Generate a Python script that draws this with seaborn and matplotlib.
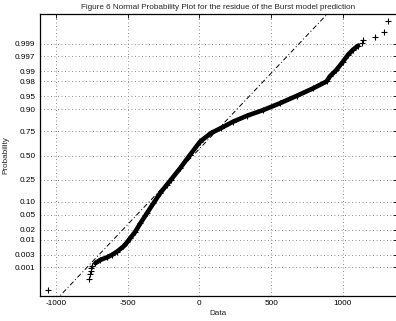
import matplotlib
matplotlib.use("Agg")
import matplotlib.pyplot as plt
import numpy as np
import pandas as pd
import seaborn as sns
from statistics import NormalDist

# Sorted residuals of the Burst model prediction and their plotting probabilities
residual = [-1055, -767, -765, -758, -755, -748, -725, -690, -644, -609, -574,
            -529, -501, -482, -447, -412, -366, -320, -273, -227, -200, -134,
            -65, 5, 80, 150, 236, 330, 445, 561, 677, 793, 886, 909, 955, 1001,
            1036, 1071, 1106, 1134, 1140, 1222, 1287, 1318]
cum_prob = [0.0001, 0.0003, 0.0005, 0.0007, 0.0009, 0.0011, 0.00144, 0.00193,
            0.0024, 0.00298, 0.0039, 0.0059, 0.0084, 0.011, 0.0174, 0.030,
            0.0548, 0.0934, 0.149, 0.209, 0.248, 0.363, 0.508, 0.650, 0.732,
            0.776, 0.826, 0.864, 0.896, 0.926, 0.9505, 0.9686, 0.9798, 0.9857,
            0.9911, 0.99534, 0.99736, 0.99831, 0.99882, 0.9991, 0.9993, 0.9995,
            0.9997, 0.9999]

# Lower and upper quartiles of the residuals (reference line passes through them)
quartiles = [-205, 117]

prob_ticks = [0.001, 0.003, 0.01, 0.02, 0.05, 0.10, 0.25, 0.50, 0.75, 0.90,
              0.95, 0.98, 0.99, 0.997, 0.999]
prob_labels = ["0.001", "0.003", "0.01", "0.02", "0.05", "0.10", "0.25", "0.50",
               "0.75", "0.90", "0.95", "0.98", "0.99", "0.997", "0.999"]
x_ticks = [-1000, -500, 0, 500, 1000]
x_labels = ["-1000", "-500", "0", "500", "1000"]

nd = NormalDist()
df = pd.DataFrame({"residual": residual, "prob": cum_prob})
df["z"] = [nd.inv_cdf(p) for p in df["prob"]]

sns.set_style("white")
plt.rcParams["font.family"] = ["Liberation Sans", "DejaVu Sans"]
plt.rcParams["axes.unicode_minus"] = False

W, H = 396, 321
fig = plt.figure(figsize=(W / 100, H / 100), dpi=100)
ax = fig.add_axes([39.5 / W, 1 - 296 / H, (397 - 39.5) / W, (296 - 14.3) / H])

# dense central part of the sample drawn as a thick band
body = df[(df["prob"] > 0.0012) & (df["prob"] < 0.999)]
sns.lineplot(data=body, x="residual", y="z", sort=False, estimator=None,
             color="black", linewidth=3.3, ax=ax)
# every sample point as a '+' marker
sns.scatterplot(data=df, x="residual", y="z", marker="+", s=18, color="black",
                linewidth=0.8, ax=ax, zorder=3)

# reference line through the quartiles, over the data range
zq = nd.inv_cdf(0.75)
slope = 2 * zq / (quartiles[1] - quartiles[0])
mid = (quartiles[0] + quartiles[1]) / 2
xmin, xmax = min(residual), max(residual)
sns.lineplot(x=[xmin, xmax], y=[(xmin - mid) * slope, (xmax - mid) * slope],
             color="black", linewidth=0.7, linestyle=(0, (5, 2.5, 1, 2.5)), ax=ax)

rng = xmax - xmin
ax.set_xlim(xmin - 0.025 * rng, xmax + 0.025 * rng)
ax.set_ylim(-3.89, 3.91)

ax.set_xticks(x_ticks)
ax.set_xticklabels(x_labels)
ax.set_yticks([nd.inv_cdf(p) for p in prob_ticks])
ax.set_yticklabels(prob_labels)

ax.grid(True, color="0.5", linewidth=0.6, linestyle=(0, (1.2, 3)))
ax.tick_params(direction="in", top=True, right=True, length=3, width=0.6,
               labelsize=5.9, colors="black", pad=3)
for s in ax.spines.values():
    s.set_color("black")
    s.set_linewidth(0.9)

ax.set_xlabel("Data", fontsize=5.9, labelpad=2)
ax.set_ylabel("Probability", fontsize=5.9, labelpad=4)
ax.set_title("Figure 6 Normal Probability Plot for the residue of the Burst model prediction",
             fontsize=5.9, pad=4)

fig.savefig("out.png", dpi=100)
